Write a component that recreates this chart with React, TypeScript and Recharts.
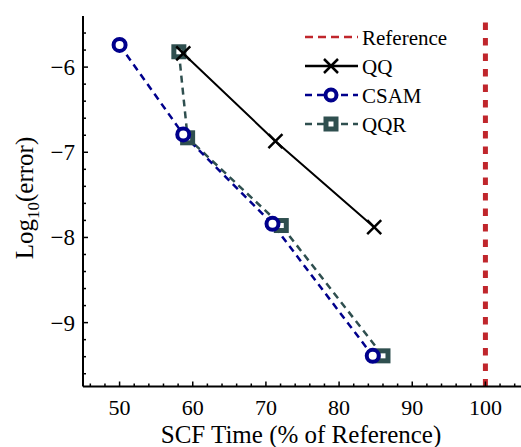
import React from 'react';
import {
  ComposedChart,
  Line,
  XAxis,
  YAxis,
  ReferenceLine,
} from 'recharts';

// SCF time (% of reference) vs log10(error)
const qqData = [
  { x: 58.7, y: -5.84 },
  { x: 71.3, y: -6.87 },
  { x: 84.8, y: -7.88 },
];

const csamData = [
  { x: 50.0, y: -5.74 },
  { x: 58.7, y: -6.79 },
  { x: 70.9, y: -7.84 },
  { x: 84.6, y: -9.39 },
];

const qqrData = [
  { x: 58.1, y: -5.82 },
  { x: 59.3, y: -6.83 },
  { x: 72.1, y: -7.86 },
  { x: 86.0, y: -9.39 },
];

const referenceX = 100;

const xTicks = [46, 48, 50, 52, 54, 56, 58, 60, 62, 64, 66, 68, 70, 72, 74, 76, 78, 80, 82, 84, 86, 88, 90, 92, 94, 96, 98, 100, 102, 104];
const yTicks = [-9.6, -9.4, -9.2, -9, -8.8, -8.6, -8.4, -8.2, -8, -7.8, -7.6, -7.4, -7.2, -7, -6.8, -6.6, -6.4, -6.2, -6, -5.8, -5.6];

const FONT = '"Liberation Serif", "Times New Roman", serif';
const BLUE = '#00008c';
const SLATE = '#2f4f4f';
const RED = '#c0262c';
const MARGIN_T = 12; // tickMargin used on every axis

const fmt = (v: number) => (v < 0 ? '\u2212' + Math.abs(v) : String(v));

const BottomTick = (props: any) => {
  const { x, y, payload } = props;
  const axisY = y - MARGIN_T;
  const major = payload.value % 10 === 0;
  return (
    <g>
      <line x1={x} x2={x} y1={axisY} y2={axisY - (major ? 5 : 3)} stroke="#000" strokeWidth={1.5} />
      {major && (
        <text x={x} y={axisY + 28} textAnchor="middle" fontFamily={FONT} fontSize={22} fill="#000">
          {payload.value}
        </text>
      )}
    </g>
  );
};

const TopTick = (props: any) => {
  const { x, y, payload } = props;
  const axisY = y + MARGIN_T;
  const major = payload.value % 10 === 0;
  return <line x1={x} x2={x} y1={axisY} y2={axisY + (major ? 5 : 3)} stroke="#000" strokeWidth={1.5} />;
};

const LeftTick = (props: any) => {
  const { x, y, payload } = props;
  const axisX = x + MARGIN_T;
  const major = Number.isInteger(payload.value);
  return (
    <g>
      <line x1={axisX} x2={axisX + (major ? 5 : 3)} y1={y} y2={y} stroke="#000" strokeWidth={1.5} />
      {major && (
        <text x={axisX - 8} y={y + 8} textAnchor="end" fontFamily={FONT} fontSize={23} fill="#000">
          {fmt(payload.value)}
        </text>
      )}
    </g>
  );
};

const RightTick = (props: any) => {
  const { x, y, payload } = props;
  const axisX = x - MARGIN_T;
  const major = Number.isInteger(payload.value);
  return <line x1={axisX} x2={axisX - (major ? 5 : 3)} y1={y} y2={y} stroke="#000" strokeWidth={1.5} />;
};

const CircleDot = (props: any) => {
  const { cx, cy, index } = props;
  if (cx == null || cy == null) return <g key={index} />;
  return <circle key={index} cx={cx} cy={cy} r={6} fill="#fff" stroke={BLUE} strokeWidth={4} />;
};

const SquareDot = (props: any) => {
  const { cx, cy, index } = props;
  if (cx == null || cy == null) return <g key={index} />;
  return <rect key={index} x={cx - 5} y={cy - 5} width={10} height={10} fill="#fff" stroke={SLATE} strokeWidth={5} />;
};

const CrossDot = (props: any) => {
  const { cx, cy, index } = props;
  if (cx == null || cy == null) return <g key={index} />;
  return (
    <g key={index}>
      <line x1={cx - 7} y1={cy - 7} x2={cx + 7} y2={cy + 7} stroke="#000" strokeWidth={2.5} />
      <line x1={cx - 7} y1={cy + 7} x2={cx + 7} y2={cy - 7} stroke="#000" strokeWidth={2.5} />
    </g>
  );
};

const legendItems = [
  { name: 'Reference', color: RED, dash: '8 5', width: 2.5, marker: 'none' },
  { name: 'QQ', color: '#000', dash: undefined, width: 2.5, marker: 'cross' },
  { name: 'CSAM', color: BLUE, dash: '7 5', width: 2.5, marker: 'circle' },
  { name: 'QQR', color: SLATE, dash: '7 5', width: 2.5, marker: 'square' },
];

const ChartLegend = () => (
  <svg width={180} height={120} style={{ position: 'absolute', left: 300, top: 25 }}>
    {legendItems.map((item, i) => {
      const cy = 12 + i * 29;
      const cx = 31;
      return (
        <g key={item.name}>
          <line x1={5} x2={58} y1={cy} y2={cy} stroke={item.color} strokeWidth={item.width} strokeDasharray={item.dash} />
          {item.marker === 'cross' && (
            <g>
              <line x1={cx - 7} y1={cy - 7} x2={cx + 7} y2={cy + 7} stroke="#000" strokeWidth={2.5} />
              <line x1={cx - 7} y1={cy + 7} x2={cx + 7} y2={cy - 7} stroke="#000" strokeWidth={2.5} />
            </g>
          )}
          {item.marker === 'circle' && <circle cx={cx} cy={cy} r={5.5} fill="#fff" stroke={BLUE} strokeWidth={4} />}
          {item.marker === 'square' && <rect x={cx - 5} y={cy - 5} width={10} height={10} fill="#fff" stroke={SLATE} strokeWidth={5} />}
          <text x={62} y={cy + 8} fontFamily={FONT} fontSize={21} fill="#000">
            {item.name}
          </text>
        </g>
      );
    })}
  </svg>
);

export default function App() {
  return (
    <div style={{ position: 'absolute', left: 0, top: 0, width: 521, height: 447, overflow: 'hidden', background: '#fff' }}>
      <ComposedChart width={530} height={447} margin={{ top: 16, right: 8, bottom: 0, left: 0 }}>
        <XAxis
          xAxisId="bottom"
          type="number"
          dataKey="x"
          orientation="bottom"
          domain={[45, 105]}
          allowDataOverflow
          ticks={xTicks}
          interval={0}
          height={60.5}
          tickSize={0}
          tickMargin={MARGIN_T}
          tick={(p: any) => <BottomTick {...p} />}
          axisLine={{ stroke: '#000', strokeWidth: 2 }}
          label={{
            content: () => (
              <text x={301} y={443} textAnchor="middle" fontFamily={FONT} fontSize={25} fill="#000">
                SCF Time (% of Reference)
              </text>
            ),
          }}
        />
        <XAxis
          xAxisId="top"
          type="number"
          dataKey="x"
          orientation="top"
          domain={[45, 105]}
          allowDataOverflow
          ticks={xTicks}
          interval={0}
          height={0}
          tickSize={0}
          tickMargin={MARGIN_T}
          tick={(p: any) => <TopTick {...p} />}
          axisLine={{ stroke: '#000', strokeWidth: 2 }}
        />
        <YAxis
          yAxisId="left"
          type="number"
          orientation="left"
          domain={[-9.75, -5.4]}
          allowDataOverflow
          ticks={yTicks}
          interval={0}
          width={83}
          tickSize={0}
          tickMargin={MARGIN_T}
          tick={(p: any) => <LeftTick {...p} />}
          axisLine={{ stroke: '#000', strokeWidth: 2 }}
          label={{
            content: () => (
              <text transform="rotate(-90)" x={-198} y={33} textAnchor="middle" fontFamily={FONT} fontSize={25} fill="#000">
                Log
                <tspan fontSize={17} dy={6}>10</tspan>
                <tspan dy={-6}>(error)</tspan>
              </text>
            ),
          }}
        />
        <YAxis
          yAxisId="right"
          type="number"
          orientation="right"
          domain={[-9.75, -5.4]}
          allowDataOverflow
          ticks={yTicks}
          interval={0}
          width={0}
          tickSize={0}
          tickMargin={MARGIN_T}
          tick={(p: any) => <RightTick {...p} />}
          axisLine={{ stroke: '#000', strokeWidth: 2 }}
        />
        <ReferenceLine
          x={referenceX}
          xAxisId="bottom"
          yAxisId="left"
          stroke={RED}
          strokeWidth={5}
          strokeDasharray="7.5 8"
        />
        <Line
          data={qqrData}
          dataKey="y"
          name="QQR"
          xAxisId="bottom"
          yAxisId="left"
          stroke={SLATE}
          strokeWidth={2.5}
          strokeDasharray="7 5"
          dot={(p: any) => <SquareDot {...p} />}
          activeDot={false}
          isAnimationActive={false}
        />
        <Line
          data={csamData}
          dataKey="y"
          name="CSAM"
          xAxisId="bottom"
          yAxisId="left"
          stroke={BLUE}
          strokeWidth={2.5}
          strokeDasharray="7 5"
          dot={(p: any) => <CircleDot {...p} />}
          activeDot={false}
          isAnimationActive={false}
        />
        <Line
          data={qqData}
          dataKey="y"
          name="QQ"
          xAxisId="bottom"
          yAxisId="left"
          stroke="#000"
          strokeWidth={2}
          dot={(p: any) => <CrossDot {...p} />}
          activeDot={false}
          isAnimationActive={false}
        />
      </ComposedChart>
      <ChartLegend />
    </div>
  );
}
